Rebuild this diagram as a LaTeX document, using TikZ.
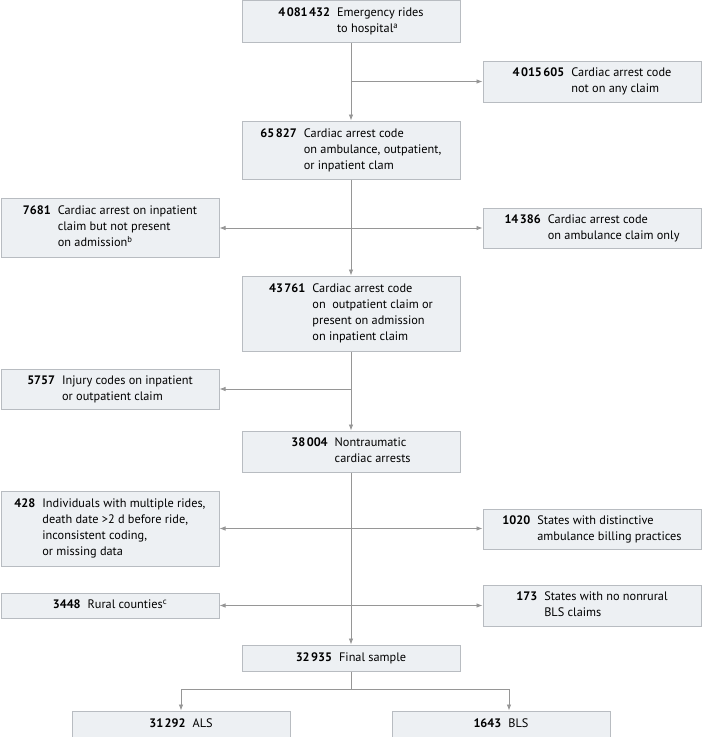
\documentclass[tikz,border=0pt]{standalone}
\usepackage{fontspec}
\setmainfont{PT Sans}
\usepackage{tikz}
\usetikzlibrary{arrows.meta}
\definecolor{boxfill}{RGB}{237,240,243}
\definecolor{boxline}{RGB}{184,188,193}
\definecolor{arrgray}{RGB}{150,150,150}
\newcommand{\ts}{\hspace{0.12em}}
\newcommand{\flowtext}[2]{\begin{tabular}{@{}r@{\hspace{7pt}}l@{}}\textbf{#1} & #2\end{tabular}}

\begin{document}
\begin{tikzpicture}[x=1pt,y=-1pt,
  flowbox/.style={draw=boxline, line width=1pt, fill=boxfill, inner sep=0pt,
    minimum width=218pt, font=\fontsize{12.3}{16}\selectfont},
  arr/.style={draw=arrgray, line width=0.8pt, -{Latex[length=6pt,width=4.5pt]}}]
\useasboundingbox (0,0) rectangle (702,737);
% main column
\node [flowbox, minimum height=42pt] (rides) at (351,21.5) {\flowtext{4\ts081\ts432}{Emergency rides\\ & to hospital\textsuperscript{a}}};
\node [flowbox, minimum height=58pt] (anycode) at (351,150) {\flowtext{65\ts827}{Cardiac arrest code\\ & on ambulance, outpatient,\\ & or inpatient clam}};
\node [flowbox, minimum height=75pt] (outpoa) at (351,313.5) {\flowtext{43\ts761}{Cardiac arrest code\\ & on\ \ outpatient claim or\\ & present on admission\\ & on inpatient claim}};
\node [flowbox, minimum height=41pt] (nontrauma) at (351,451.5) {\flowtext{38\ts004}{Nontraumatic\\ & cardiac arrests}};
\node [flowbox, minimum height=26pt] (final) at (351,658) {\flowtext{32\ts935}{Final sample}};
% exclusions on the right
\node [flowbox, minimum height=41pt] (notany) at (592,81.5) {\flowtext{4\ts015\ts605}{Cardiac arrest code\\ & not on any claim}};
\node [flowbox, minimum height=40pt] (ambonly) at (592,228) {\flowtext{14\ts386}{Cardiac arrest code\\ & on ambulance claim only}};
\node [flowbox, minimum height=40pt] (billing) at (592,529) {\flowtext{1020}{States with distinctive\\ & ambulance billing practices}};
\node [flowbox, minimum height=41pt] (nobls) at (592,605.5) {\flowtext{173}{States with no nonrural\\ & BLS claims}};
% exclusions on the left
\node [flowbox, minimum height=59pt] (notpoa) at (110,227.5) {\flowtext{7681}{Cardiac arrest on inpatient\\ & claim but not present\\ & on admission\textsuperscript{b}}};
\node [flowbox, minimum height=40pt] (injury) at (110,389) {\flowtext{5757}{Injury codes on inpatient\\ & or outpatient claim}};
\node [flowbox, minimum height=75pt] (excluded) at (110,528.5) {\flowtext{428}{Individuals with multiple rides,\\ & death date >2 d before ride,\\ & inconsistent coding,\\ & or missing data}};
\node [flowbox, minimum height=25pt] (rural) at (110,605.5) {\flowtext{3448}{Rural counties\textsuperscript{c}}};
% groups
\node [flowbox, minimum height=26pt] (als) at (181,724) {\flowtext{31\ts292}{ALS}};
\node [flowbox, minimum height=26pt] (bls) at (501,724) {\flowtext{1643}{BLS}};

% connectors
\coordinate (j1) at (351,81.5);
\coordinate (j2) at (351,228);
\coordinate (j3) at (351,389);
\coordinate (j4) at (351,528.5);
\coordinate (j5) at (351,605.5);
\coordinate (j6) at (351,689);
\draw [arr] (rides) -- (anycode);
\draw [arr] (j1) -- (notany);
\draw [arr] (anycode) -- (outpoa);
\draw [arr] (j2) -- (j2 -| notpoa.east);
\draw [arr] (j2) -- (ambonly);
\draw [arr] (outpoa) -- (nontrauma);
\draw [arr] (j3) -- (injury);
\draw [arr] (nontrauma) -- (final);
\draw [arr] (j4) -- (excluded);
\draw [arr] (j4) -- (j4 -| billing.west);
\draw [arr] (j5) -- (rural);
\draw [arr] (j5) -- (nobls);
\draw [arr] (final) -- (j6) -| (als);
\draw [arr] (j6) -| ([xshift=8pt]bls.north);
\end{tikzpicture}
\end{document}
